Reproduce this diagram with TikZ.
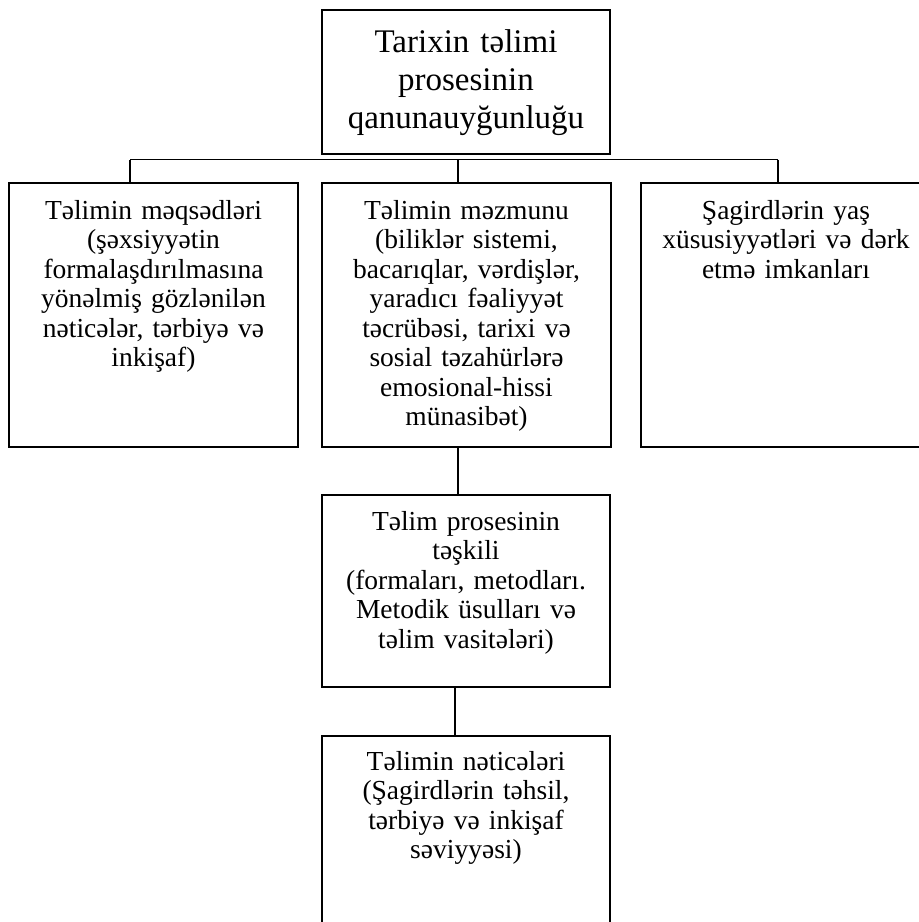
\documentclass[tikz,border=0pt]{standalone}
\usepackage{fontspec}
\setmainfont{Liberation Serif}
\begin{document}
\begin{tikzpicture}[x=1pt,y=-1pt,
  frame/.style={draw=black, line width=2pt, rectangle, inner sep=0pt},
  link/.style={draw=black, line width=1.8pt},
  headtext/.style={anchor=base, align=center, text width=280pt, inner sep=0pt,
    font=\fontsize{33}{38}\selectfont},
  bodytext/.style={anchor=base, align=center, text width=280pt, inner sep=0pt,
    font=\fontsize{27.5}{29.5}\selectfont}]
\useasboundingbox (0,0) rectangle (919,922);
\clip (0,0) rectangle (919,922);

% title box
\node[frame, minimum width=288pt, minimum height=144pt] (top) at (466,82) {};
\node[headtext] (toptext) at (466,52) {Tarixin təlimi\\prosesinin\\qanunauyğunluğu};

% three boxes of the second row
\node[frame, minimum width=289pt, minimum height=264pt] (goals) at (153.5,315) {};
\node[bodytext] (goalstext) at (153.5,219) {Təlimin məqsədləri\\(şəxsiyyətin\\formalaşdırılmasına\\yönəlmiş gözlənilən\\nəticələr, tərbiyə və\\inkişaf)};

\node[frame, minimum width=289pt, minimum height=264pt] (content) at (466.5,315) {};
\node[bodytext] (contenttext) at (466.5,219) {Təlimin məzmunu\\(biliklər sistemi,\\bacarıqlar, vərdişlər,\\yaradıcı fəaliyyət\\təcrübəsi, tarixi və\\sosial təzahürlərə\\emosional-hissi\\münasibət)};

\node[frame, minimum width=290pt, minimum height=264pt] (pupils) at (786,315) {};
\node[bodytext] (pupilstext) at (786,219) {Şagirdlərin yaş\\xüsusiyyətləri və dərk\\etmə imkanları};

% process organisation
\node[frame, minimum width=288pt, minimum height=192pt] (process) at (466,591) {};
\node[bodytext] (processtext) at (466,530) {Təlim prosesinin\\təşkili\\(formaları, metodları.\\Metodik üsulları və\\təlim vasitələri)};

% results
\node[frame, minimum width=288pt, minimum height=240pt] (results) at (466,856) {};
\node[bodytext] (resultstext) at (466,770) {Təlimin nəticələri\\(Şagirdlərin təhsil,\\tərbiyə və inkişaf\\səviyyəsi)};

% distribution bar under the title
\coordinate (busL) at (130,159.5);
\coordinate (busM) at (458,159.5);
\coordinate (busR) at (778,159.5);
\draw[link] (busL) -- (busR);
\draw[link] (busL) -- (busL |- goals.north);
\draw[link] (busM) -- (busM |- content.north);
\draw[link] (busR) -- (busR |- pupils.north);

% vertical chain
\coordinate (chainA) at (458,0);
\coordinate (chainB) at (455,0);
\draw[link] (chainA |- content.south) -- (chainA |- process.north);
\draw[link] (chainB |- process.south) -- (chainB |- results.north);
\end{tikzpicture}
\end{document}
